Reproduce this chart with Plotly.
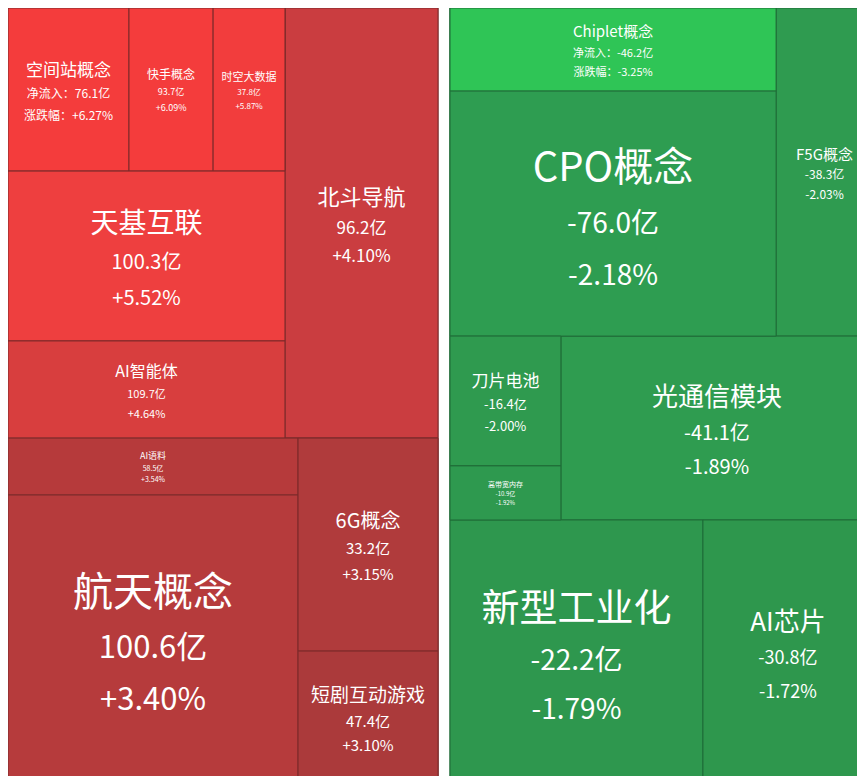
import plotly.graph_objects as go

# Left panel (inflow sectors)
L_ids = ["LT", "LB", "LTL", "LR1", "空间站概念", "快手概念", "时空大数据", "天基互联", "AI智能体", "北斗导航",
         "LBL", "LBR", "AI语料", "航天概念", "6G概念", "短剧互动游戏"]
L_parents = ["", "", "LT", "LTL", "LR1", "LR1", "LR1", "LTL", "LTL", "LT",
             "LB", "LB", "LBL", "LBL", "LBR", "LBR"]
L_leaf_area = {"空间站概念": 197, "快手概念": 137, "时空大数据": 117, "天基互联": 471, "AI智能体": 269,
               "北斗导航": 658, "AI语料": 165, "航天概念": 838, "6G概念": 298, "短剧互动游戏": 186}
L_flow = {"空间站概念": "76.1亿", "快手概念": "93.7亿", "时空大数据": "37.8亿", "天基互联": "100.3亿",
          "AI智能体": "109.7亿", "北斗导航": "96.2亿", "AI语料": "58.5亿", "航天概念": "100.6亿",
          "6G概念": "33.2亿", "短剧互动游戏": "47.4亿"}
L_pct = {"空间站概念": "+6.27%", "快手概念": "+6.09%", "时空大数据": "+5.87%", "天基互联": "+5.52%",
         "AI智能体": "+4.64%", "北斗导航": "+4.10%", "AI语料": "+3.54%", "航天概念": "+3.40%",
         "6G概念": "+3.15%", "短剧互动游戏": "+3.10%"}
L_color = {"空间站概念": "#f43c3c", "快手概念": "#f43c3c", "时空大数据": "#f23d3d", "天基互联": "#ee3f3f",
           "AI智能体": "#d83e3e", "北斗导航": "#ca3d40", "AI语料": "#b63a3b", "航天概念": "#b63b3c",
           "6G概念": "#b03b3c", "短剧互动游戏": "#ab3a3b"}
L_size = {"空间站概念": (17, 12), "快手概念": (12, 9), "时空大数据": (11, 8), "天基互联": (28, 20),
          "AI智能体": (16, 11), "北斗导航": (22, 17), "AI语料": (9, 7), "航天概念": (40, 31),
          "6G概念": (20, 15), "短剧互动游戏": (19, 15)}

# Right panel (outflow sectors)
R_ids = ["RT", "RM", "RB", "RTL", "Chiplet概念", "CPO概念", "F5G概念", "RML", "刀片电池", "高带宽内存",
         "光通信模块", "新型工业化", "AI芯片"]
R_parents = ["", "", "", "RT", "RTL", "RTL", "RT", "RM", "RML", "RML", "RM", "RB", "RB"]
R_leaf_area = {"Chiplet概念": 271, "CPO概念": 799, "F5G概念": 318, "刀片电池": 144, "高带宽内存": 60,
               "光通信模块": 574, "新型工业化": 668, "AI芯片": 449}
R_flow = {"Chiplet概念": "-46.2亿", "CPO概念": "-76.0亿", "F5G概念": "-38.3亿", "刀片电池": "-16.4亿",
          "高带宽内存": "-10.9亿", "光通信模块": "-41.1亿", "新型工业化": "-22.2亿", "AI芯片": "-30.8亿"}
R_pct = {"Chiplet概念": "-3.25%", "CPO概念": "-2.18%", "F5G概念": "-2.03%", "刀片电池": "-2.00%",
         "高带宽内存": "-1.92%", "光通信模块": "-1.89%", "新型工业化": "-1.79%", "AI芯片": "-1.72%"}
R_color = {"Chiplet概念": "#2fc556", "CPO概念": "#2e9d51", "F5G概念": "#2f9b50", "刀片电池": "#2f9a4f",
           "高带宽内存": "#2e994f", "光通信模块": "#2f9c50", "新型工业化": "#2e974e", "AI芯片": "#2e974d"}
R_size = {"Chiplet概念": (15, 11), "CPO概念": (40, 28), "F5G概念": (15, 12), "刀片电池": (17, 13),
          "高带宽内存": (7, 6), "光通信模块": (26, 20), "新型工业化": (38, 28), "AI芯片": (26, 18)}

LABELED = {"空间站概念", "Chiplet概念"}


def build(ids, parents, area, flow, pct, color, size, base):
    children = {}
    for i, p in zip(ids, parents):
        children.setdefault(p, []).append(i)

    def val(n):
        if n in area:
            return area[n]
        return sum(val(c) for c in children[n])

    values = [val(i) for i in ids]
    texts, colors, fsz = [], [], []
    for i in ids:
        if i in area:
            a, b = size[i]
            if i in LABELED:
                sub = f"净流入：{flow[i]}<br>涨跌幅：{pct[i]}"
            else:
                sub = f"{flow[i]}<br>{pct[i]}"
            texts.append(f"{i}<br><span style='font-size:{b}px'>{sub}</span>")
            colors.append(color[i])
            fsz.append(a)
        else:
            texts.append("")
            colors.append(base)
            fsz.append(10)
    return values, texts, colors, fsz


lv, lt, lc, lf = build(L_ids, L_parents, L_leaf_area, L_flow, L_pct, L_color, L_size, "#c03c3c")
rv, rt, rc, rf = build(R_ids, R_parents, R_leaf_area, R_flow, R_pct, R_color, R_size, "#2e9a4f")

common = dict(branchvalues="total", sort=False, texttemplate="%{text}", hoverinfo="skip",
              tiling=dict(packing="dice-slice", pad=0), pathbar=dict(visible=False),
              textposition="middle center")

fig = go.Figure()
fig.add_trace(go.Treemap(ids=L_ids, labels=L_ids, parents=L_parents, values=lv, text=lt,
                         textfont=dict(family="Noto Sans CJK SC", color="white", size=lf),
                         marker=dict(colors=lc, line=dict(color="#7a2a2a", width=1),
                                     pad=dict(t=0, l=0, r=0, b=0)),
                         domain=dict(x=[0, 430 / 865], y=[0, 1]), **common))
fig.add_trace(go.Treemap(ids=R_ids, labels=R_ids, parents=R_parents, values=rv, text=rt,
                         textfont=dict(family="Noto Sans CJK SC", color="white", size=rf),
                         marker=dict(colors=rc, line=dict(color="#1f6b37", width=1),
                                     pad=dict(t=0, l=0, r=0, b=0)),
                         domain=dict(x=[442 / 865, 1], y=[0, 1]), **common))
fig.update_layout(width=865, height=776, margin=dict(l=0, r=0, t=0, b=0),
                  paper_bgcolor="white", showlegend=False)
fig.write_html("out.html")
